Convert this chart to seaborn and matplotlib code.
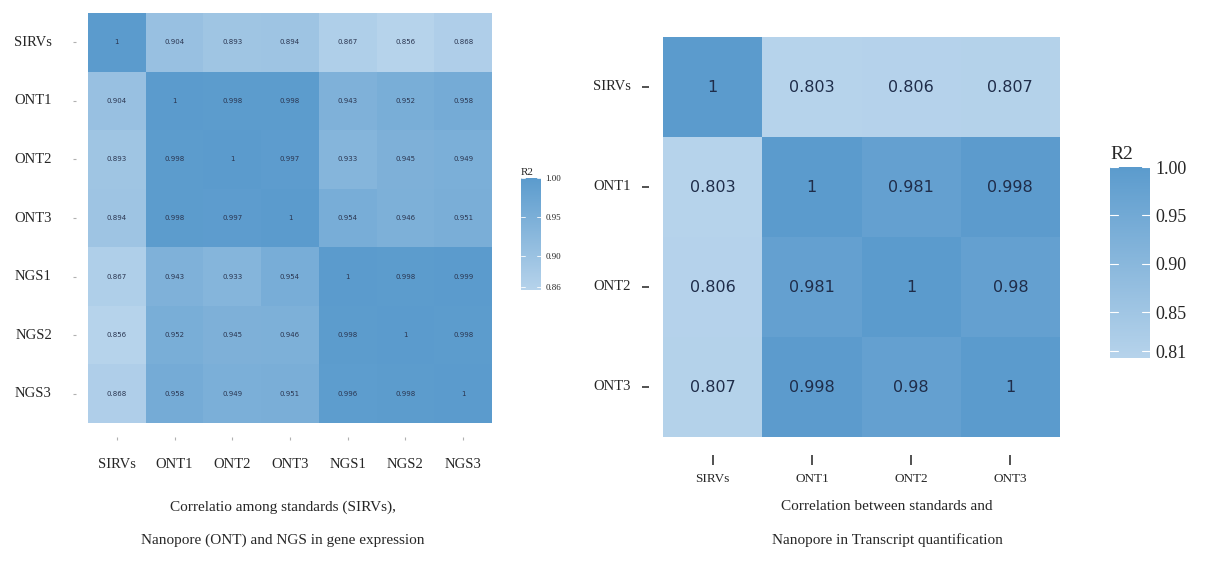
import numpy as np
import pandas as pd
import matplotlib
matplotlib.use("Agg")
import matplotlib.pyplot as plt
import matplotlib.transforms as mtrans
import seaborn as sns
from matplotlib.colors import LinearSegmentedColormap

# ---- data ----
labels_left = ["SIRVs", "ONT1", "ONT2", "ONT3", "NGS1", "NGS2", "NGS3"]
row_sirvs = [1, 0.904, 0.893, 0.894, 0.867, 0.856, 0.868]
row_ont1 = [0.904, 1, 0.998, 0.998, 0.943, 0.952, 0.958]
row_ont2 = [0.893, 0.998, 1, 0.997, 0.933, 0.945, 0.949]
row_ont3 = [0.894, 0.998, 0.997, 1, 0.954, 0.946, 0.951]
row_ngs1 = [0.867, 0.943, 0.933, 0.954, 1, 0.998, 0.999]
row_ngs2 = [0.856, 0.952, 0.945, 0.946, 0.998, 1, 0.998]
row_ngs3 = [0.868, 0.958, 0.949, 0.951, 0.996, 0.998, 1]

labels_right = ["SIRVs", "ONT1", "ONT2", "ONT3"]
r_sirvs = [1, 0.803, 0.806, 0.807]
r_ont1 = [0.803, 1, 0.981, 0.998]
r_ont2 = [0.806, 0.981, 1, 0.98]
r_ont3 = [0.807, 0.998, 0.98, 1]

left_ticks = [0.86, 0.90, 0.95, 1.00]
right_ticks = [0.81, 0.85, 0.90, 0.95, 1.00]

caption_left = ["Correlatio among standards (SIRVs),", "Nanopore (ONT) and NGS in gene expression"]
caption_right = ["Correlation between standards and", "Nanopore in Transcript quantification"]

df_left = pd.DataFrame([row_sirvs, row_ont1, row_ont2, row_ont3, row_ngs1, row_ngs2, row_ngs3],
                       index=labels_left, columns=labels_left)
df_right = pd.DataFrame([r_sirvs, r_ont1, r_ont2, r_ont3], index=labels_right, columns=labels_right)

sns.set_theme(style="white")
plt.rcParams["font.family"] = ["Liberation Serif", "DejaVu Serif"]

W, H = 1209, 561
fig = plt.figure(figsize=(W / 100, H / 100), dpi=100)

def px(x0, y0, x1, y1):
    return [x0 / W, 1 - y1 / H, (x1 - x0) / W, (y1 - y0) / H]

cmap = LinearSegmentedColormap.from_list("r2", ["#b6d3eb", "#5b9bcd"])
fmt = lambda v: "1" if v == 1 else f"{v:g}"

# ---- left heatmap ----
axL = fig.add_axes(px(88, 13, 492, 423))
caxL = fig.add_axes(px(521, 178, 541, 290))
sns.heatmap(df_left, ax=axL, cmap=cmap, vmin=0.856, vmax=1.0, annot=df_left.map(fmt), fmt="",
            annot_kws={"fontsize": 5, "color": "#2a3550", "family": "DejaVu Sans"},
            cbar_ax=caxL, cbar_kws={"ticks": left_ticks})
axL.set_xlabel("")
axL.set_ylabel("")
axL.set_yticklabels(labels_left, rotation=0, fontsize=10.5)
axL.set_xticklabels(labels_left, rotation=0, fontsize=10.5)
axL.tick_params(axis="y", left=True, length=2, color="#b0b0b0", width=0.8, pad=24)
axL.tick_params(axis="x", bottom=True, length=2, color="#b0b0b0", width=0.8, pad=23)
caxL.tick_params(length=0, labelsize=6.5, pad=3)
caxL.set_yticklabels([f"{t:.2f}" for t in left_ticks])
caxL.set_title("R2", fontsize=8, loc="left", pad=2)
for t in left_ticks:
    caxL.axhline(t, xmin=0, xmax=0.2, color="white", lw=0.6)
    caxL.axhline(t, xmin=0.8, xmax=1, color="white", lw=0.6)

# ---- right heatmap ----
axR = fig.add_axes(px(663, 37, 1060, 437))
caxR = fig.add_axes(px(1110, 167, 1150, 358))
sns.heatmap(df_right, ax=axR, cmap=cmap, vmin=0.803, vmax=1.0, annot=df_right.map(fmt), fmt="",
            annot_kws={"fontsize": 11.5, "color": "#1f2d4a", "family": "DejaVu Sans"},
            cbar_ax=caxR, cbar_kws={"ticks": right_ticks})
axR.set_xlabel("")
axR.set_ylabel("")
axR.set_yticklabels(labels_right, rotation=0, fontsize=10.5)
axR.set_xticklabels(labels_right, rotation=0, fontsize=9.5)
axR.tick_params(axis="y", left=True, length=5, width=1.2, color="#333333", pad=18)
axR.tick_params(axis="x", bottom=True, length=7, width=1.2, color="#333333", pad=19)
caxR.tick_params(length=0, labelsize=13, pad=4)
caxR.set_yticklabels([f"{t:.2f}" for t in right_ticks])
caxR.set_title("R2", fontsize=14, loc="left", pad=6)
for t in right_ticks:
    caxR.axhline(t, xmin=0, xmax=0.2, color="white", lw=0.8)
    caxR.axhline(t, xmin=0.8, xmax=1, color="white", lw=0.8)

# offset tick lines (ggplot-like gap between panel and ticks)
def offset_ticks(ax, dx_pts, dy_pts):
    for tk in ax.yaxis.get_major_ticks():
        tk.tick1line.set_transform(tk.tick1line.get_transform() +
                                   mtrans.ScaledTranslation(-dx_pts / 72, 0, fig.dpi_scale_trans))
    for tk in ax.xaxis.get_major_ticks():
        tk.tick1line.set_transform(tk.tick1line.get_transform() +
                                   mtrans.ScaledTranslation(0, -dy_pts / 72, fig.dpi_scale_trans))

offset_ticks(axL, 9, 10)
offset_ticks(axR, 10, 13)

# ---- captions ----
fig.text(283 / W, 1 - 507 / H, caption_left[0], ha="center", va="center", fontsize=11)
fig.text(283 / W, 1 - 540 / H, caption_left[1], ha="center", va="center", fontsize=11)
fig.text(887 / W, 1 - 507 / H, caption_right[0], ha="center", va="center", fontsize=11)
fig.text(887 / W, 1 - 540 / H, caption_right[1], ha="center", va="center", fontsize=11)

fig.savefig("out.png", dpi=100)
